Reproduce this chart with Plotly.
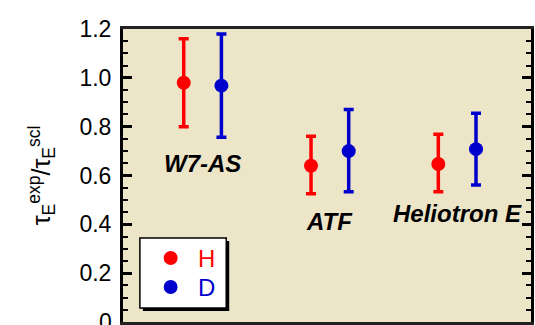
import plotly.graph_objects as go

# Confinement-time ratio for H and D plasmas in three stellarator/heliotron devices
devices = ["W7-AS", "ATF", "Heliotron E"]
device_pos = [1, 2, 3]
label_y = [0.648, 0.41, 0.445]

h_val = [0.98, 0.64, 0.647]
h_hi = [1.16, 0.761, 0.769]
h_lo = [0.80, 0.525, 0.533]

d_val = [0.968, 0.70, 0.708]
d_hi = [1.18, 0.87, 0.855]
d_lo = [0.757, 0.533, 0.561]

y_ticks = [0.2, 0.4, 0.6, 0.8, 1.0, 1.2]
y_ticktext = ["0.2", "0.4", "0.6", "0.8", "1.0", "1.2"]
y_zero_label = "0"

series_names = ["H", "D"]
series_colors = ["#FF0000", "#0000CC"]

offset = 0.148
FONT = "Liberation Sans, Arial, sans-serif"

# plot-area geometry in pixels (used for the hand-drawn key box)
W, H = 535, 325
L, R, T, B = 123, 1, 29, 3
PW, PH = W - L - R, H - T - B


def px(x):
    return (x - L) / PW


def py(y):
    return (H - B - y) / PH


fig = go.Figure()


def add_series(name, vals, hi, lo, color, shift):
    fig.add_trace(go.Scatter(
        x=[p + shift for p in device_pos],
        y=vals,
        mode="markers",
        name=name,
        showlegend=False,
        marker=dict(color=color, size=14, symbol="circle"),
        error_y=dict(
            type="data", symmetric=False,
            array=[h - v for h, v in zip(hi, vals)],
            arrayminus=[v - l for v, l in zip(vals, lo)],
            color=color, thickness=3.5, width=5,
        ),
    ))


add_series(series_names[0], h_val, h_hi, h_lo, series_colors[0], -offset)
add_series(series_names[1], d_val, d_hi, d_lo, series_colors[1], offset)

for name, xp, yp in zip(devices, device_pos, label_y):
    fig.add_annotation(
        x=xp, y=yp, text=f"<b><i>{name}</i></b>", showarrow=False,
        font=dict(family=FONT, size=24, color="black"),
        xanchor="center", yanchor="middle",
    )

# the zero label sits on the bottom edge, so it is placed by hand
fig.add_annotation(
    x=0, xref="paper", y=0, yref="y", text=y_zero_label, showarrow=False,
    xanchor="right", yanchor="middle", xshift=-9,
    font=dict(family=FONT, size=23, color="black"),
)

# key box with drop shadow
fig.add_shape(type="rect", xref="paper", yref="paper",
              x0=px(143), x1=px(230), y0=py(311), y1=py(241),
              fillcolor="black", line=dict(width=0), layer="above")
fig.add_shape(type="rect", xref="paper", yref="paper",
              x0=px(140), x1=px(227), y0=py(308), y1=py(238),
              fillcolor="white", line=dict(color="black", width=1.5), layer="above")
for i, (name, color) in enumerate(zip(series_names, series_colors)):
    cy = 258 + 29 * i
    fig.add_shape(type="circle", xref="paper", yref="paper",
                  x0=px(164), x1=px(178), y0=py(cy + 7), y1=py(cy - 7),
                  fillcolor=color, line=dict(width=0), layer="above")
    fig.add_annotation(x=px(207), y=py(cy), xref="paper", yref="paper",
                       text=name, showarrow=False,
                       font=dict(family=FONT, size=24, color=color),
                       xanchor="center", yanchor="middle")

fig.update_layout(
    width=W, height=H,
    margin=dict(l=L, r=R, t=T, b=B),
    paper_bgcolor="white",
    plot_bgcolor="#ECE5C8",
    showlegend=False,
    xaxis=dict(
        range=[0.375, 3.58], showgrid=False, zeroline=False,
        showticklabels=False, ticks="",
        showline=True, linecolor="#222", linewidth=2.5, mirror=True,
    ),
    yaxis=dict(
        range=[0, 1.2], showgrid=False, zeroline=False,
        tickvals=y_ticks, ticktext=y_ticktext,
        ticks="inside", ticklen=9, tickwidth=2.5, tickcolor="black",
        minor=dict(ticks="inside", ticklen=5, tickwidth=2, tickcolor="black", dtick=0.05),
        showline=True, linecolor="black", linewidth=3, mirror="ticks",
        tickfont=dict(family=FONT, size=23, color="black"),
        ticklabelstandoff=4,
        title=dict(
            text="τ<sub>E</sub><sup>exp</sup>/τ<sub>E</sub><sup>scl</sup>",
            font=dict(family=FONT, size=25, color="black"),
            standoff=22,
        ),
    ),
)

fig.write_html("out.html")
